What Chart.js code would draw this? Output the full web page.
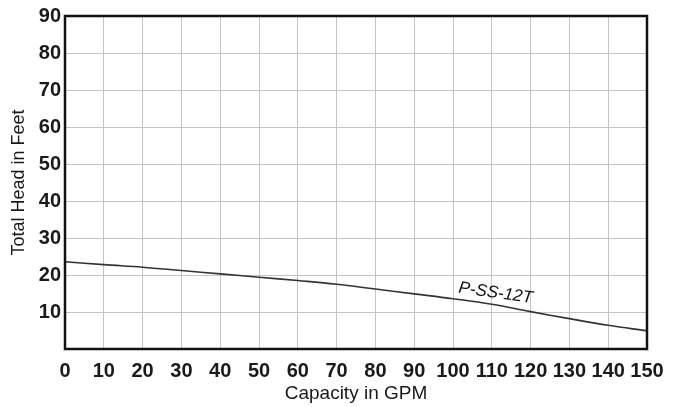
<!DOCTYPE html>
<html>
<head>
<meta charset="utf-8">
<script src="https://cdn.jsdelivr.net/npm/chart.js@4/dist/chart.umd.min.js"></script>
<style>
  html, body { margin: 0; padding: 0; background: #fff; }
  #wrap { width: 674px; height: 407px; }
</style>
</head>
<body>
<div id="wrap"><canvas id="pumpCurve"></canvas></div>
<script>
// Pump curve P-SS-12T

let capacity = [0, 10, 20, 30, 40, 50, 60, 70, 80, 90, 100, 110, 120, 130, 140, 150];
let head = [23.6, 22.8, 22.1, 21.2, 20.3, 19.4, 18.5, 17.5, 16.2, 14.9, 13.6, 12.1, 10.1, 8.2, 6.4, 4.9];
let xTicks = [0, 10, 20, 30, 40, 50, 60, 70, 80, 90, 100, 110, 120, 130, 140, 150];
let yTicks = [0, 10, 20, 30, 40, 50, 60, 70, 80, 90];
let curveName = "P-SS-12T";

// Black frame round the plot area and the curve label
const framePlugin = {
  id: "frame",
  afterDraw(chart) {
    const {ctx, chartArea: a, scales} = chart;
    ctx.save();
    ctx.strokeStyle = "#111";
    ctx.lineWidth = 2.5;
    ctx.strokeRect(a.left, a.top, a.right - a.left, a.bottom - a.top);

    // curve name, rotated along the line
    const px = scales.x.getPixelForValue(111);
    const py = scales.y.getPixelForValue(15.1);
    ctx.translate(px, py);
    ctx.rotate(8 * Math.PI / 180);
    ctx.font = "italic 17px 'Liberation Sans', Arial, sans-serif";
    ctx.fillStyle = "#111";
    ctx.textAlign = "center";
    ctx.textBaseline = "middle";
    ctx.fillText(curveName, 0, 0);
    ctx.restore();
  }
};

new Chart(document.getElementById("pumpCurve"), {
  type: "line",
  data: {
    datasets: [{
      label: curveName,
      data: capacity.map((c, i) => ({x: c, y: head[i]})),
      borderColor: "#333",
      borderWidth: 1.6,
      pointRadius: 0,
      tension: 0.4,
      fill: false
    }]
  },
  options: {
    responsive: true,
    maintainAspectRatio: false,
    animation: false,
    layout: { padding: {left: 0, top: 6, right: 27, bottom: 0} },
    plugins: { legend: {display: false}, tooltip: {enabled: false} },
    scales: {
      x: {
        type: "linear",
        min: 0, max: 150,
        afterBuildTicks: s => { s.ticks = xTicks.map(v => ({value: v})); },
        afterFit: s => { s.height = 58; },
        grid: { color: "#c4c4c4", lineWidth: 1, drawTicks: false },
        border: { display: false },
        ticks: {
          autoSkip: false, maxRotation: 0, padding: 10,
          color: "#1a1a1a",
          font: { family: "'Liberation Sans', Arial, sans-serif", size: 20, weight: "bold" }
        },
        title: {
          display: true, text: "Capacity in GPM", color: "#1a1a1a",
          padding: {top: 0, bottom: 2},
          font: { family: "'Liberation Sans', Arial, sans-serif", size: 19 }
        }
      },
      y: {
        min: 0, max: 90,
        afterBuildTicks: s => { s.ticks = yTicks.map(v => ({value: v})); },
        afterFit: s => { s.width = 65; },
        grid: { color: "#c4c4c4", lineWidth: 1, drawTicks: false },
        border: { display: false },
        ticks: {
          padding: 4, color: "#1a1a1a",
          callback: v => v === 0 ? "" : v,
          font: { family: "'Liberation Sans', Arial, sans-serif", size: 20, weight: "bold" }
        },
        title: {
          display: true, text: "Total Head in Feet", color: "#1a1a1a",
          padding: {top: 8, bottom: 0},
          font: { family: "'Liberation Sans', Arial, sans-serif", size: 18 }
        }
      }
    }
  },
  plugins: [framePlugin]
});
</script>
</body>
</html>
